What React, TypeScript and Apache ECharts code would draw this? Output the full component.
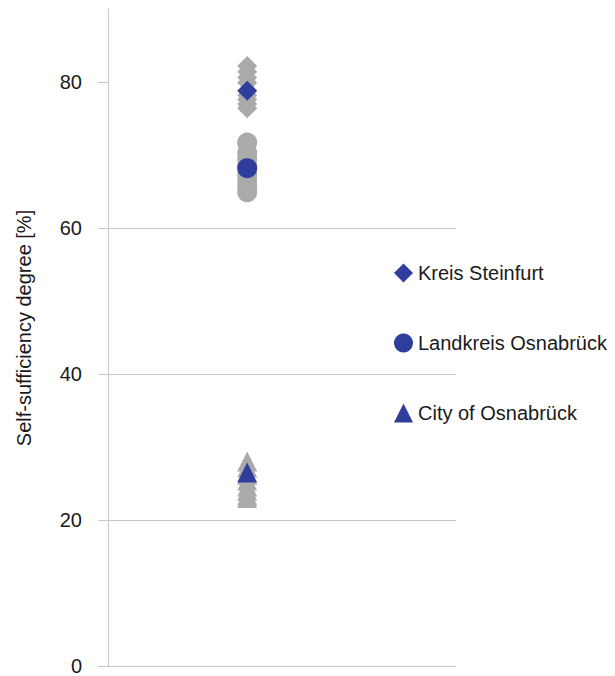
import React, { useEffect, useRef } from "react";
import * as echarts from "echarts";

const yTicks = [0, 20, 40, 60, 80];
const xPosition = 2;
const legendNames = ["Kreis Steinfurt", "Landkreis Osnabrück", "City of Osnabrück"];
const steinfurtScenarios = [82.2, 81.4, 80.6, 79.9, 78.2, 77.6, 77.0, 76.4];
const steinfurtMean = 78.8;
const landkreisScenarios = [71.7, 70.3, 69.5, 68.6, 67.4, 66.6, 65.8, 64.9];
const landkreisMean = 68.2;
const cityScenarios = [28.0, 27.2, 26.2, 25.4, 24.6, 24.0, 23.4, 23.0];
const cityMean = 26.5;

const BLUE = "#2F3D9C";
const GREY = "#AAAAAA";
const FONT = "Liberation Sans, Arial, Helvetica, sans-serif";

export default function App() {
  const ref = useRef<HTMLDivElement>(null);
  useEffect(() => {
    if (!ref.current) return;
    const chart = echarts.init(ref.current, undefined, { renderer: "svg" });
    const pts = (arr: number[]) => arr.map((v) => [xPosition, v]);
    const grey = (name: string, symbol: string, arr: number[]) => ({
      name,
      type: "scatter",
      symbol,
      symbolSize: 20,
      itemStyle: { color: GREY, opacity: 1 },
      data: pts(arr),
      silent: true,
      z: 2,
    });
    const blue = (name: string, symbol: string, v: number) => ({
      name,
      type: "scatter",
      symbol,
      symbolSize: 20,
      itemStyle: { color: BLUE, opacity: 1 },
      data: [[xPosition, v]],
      z: 3,
    });
    chart.setOption({
      animation: false,
      grid: { left: 108, right: 159, top: 9, bottom: 4 },
      xAxis: { type: "value", min: 0, max: 5, show: false },
      yAxis: {
        type: "value",
        min: 0,
        max: 90,
        interval: 20,
        axisLine: { show: true, lineStyle: { color: "#C8C8C8", width: 1 } },
        axisTick: {
          show: true,
          length: 10,
          customValues: yTicks,
          lineStyle: { color: "#C8C8C8" },
        },
        axisLabel: {
          customValues: yTicks,
          margin: 26,
          fontSize: 20,
          fontFamily: FONT,
          color: "#1a1a1a",
        },
        splitLine: { show: true, showMaxLine: false, lineStyle: { color: "#C8C8C8", width: 1 } },
      },
      legend: {
        data: legendNames.map((n, i) => ({
          name: n,
          icon: ["diamond", "circle", "triangle"][i],
        })),
        orient: "vertical",
        left: 389,
        top: 258,
        itemWidth: 19,
        itemHeight: 19,
        itemGap: 50,
        selectedMode: false,
        textStyle: { fontSize: 20, lineHeight: 19, fontFamily: FONT, color: "#1a1a1a" },
      },
      graphic: [
        {
          type: "text",
          x: 24,
          y: 328,
          rotation: Math.PI / 2,
          style: {
            text: "Self-sufficiency degree [%]",
            fontSize: 20,
            fontFamily: FONT,
            fill: "#1a1a1a",
            textAlign: "center",
            textVerticalAlign: "middle",
          },
        },
      ],
      series: [
        grey("Kreis Steinfurt scenarios", "diamond", steinfurtScenarios),
        grey("Landkreis Osnabrück scenarios", "circle", landkreisScenarios),
        grey("City of Osnabrück scenarios", "triangle", cityScenarios),
        blue(legendNames[0], "diamond", steinfurtMean),
        blue(legendNames[1], "circle", landkreisMean),
        blue(legendNames[2], "triangle", cityMean),
      ],
    });
    return () => chart.dispose();
  }, []);
  return (
    <div
      ref={ref}
      style={{ position: "fixed", left: 0, top: 0, width: 615, height: 676, background: "#fff" }}
    />
  );
}
